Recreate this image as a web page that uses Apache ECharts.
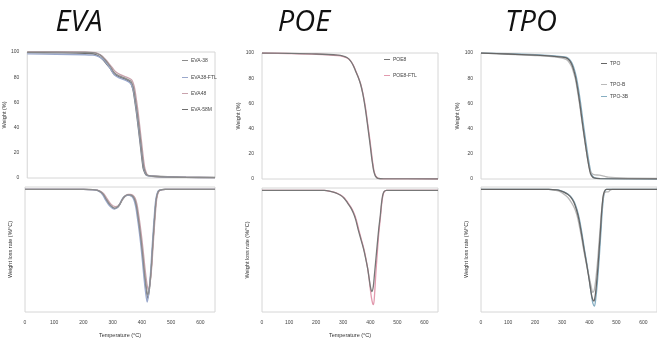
<!DOCTYPE html>
<html>
<head>
<meta charset="utf-8">
<script src="https://cdn.jsdelivr.net/npm/echarts@6/dist/echarts.min.js"></script>
<style>
  html, body { margin: 0; padding: 0; background: #fff; }
  #chart { width: 657px; height: 341px; }
</style>
</head>
<body>
<div id="chart"></div>
<script>
// panel titles and legend names
const panelTitles = ['EVA', 'POE', 'TPO'];
const evaNames = ['EVA-38', 'EVA38-FTL', 'EVA48', 'EVA-58M'];
const poeNames = ['POE8', 'POE8-FTL'];
const tpoNames = ['TPO', 'TPO-B', 'TPO-3B'];

// TGA curves: [temperature °C, weight %]
const evaTga38 = [[0,100],[100,100],[200,99.8],[225,99.5],[239,99],[253,97.5],[267,94.4],[280,90.8],[290,87.7],[301,83.7],[318,81],[341,79],[358,77],[364,74.5],[369,70.4],[375,61.5],[381,51.7],[392,30.4],[403,9],[409,4.5],[415,2.4],[430,1.5],[460,1],[550,0.5],[650,0.3]];
const evaTga38ftl = [[0,98.5],[100,98.2],[200,97.8],[225,97.5],[240,97],[254,95.5],[268,93],[280,89.3],[290,86],[301,82],[318,79.5],[341,77.5],[358,75],[364,72.2],[369,68],[375,59],[381,49],[392,28],[403,8],[409,4],[415,2],[430,1.4],[460,1],[550,0.5],[650,0.3]];
const evaTga48 = [[0,100.5],[100,100.4],[200,100],[228,99.7],[243,99],[257,97.2],[271,94],[283,90.8],[293,88],[305,84.5],[322,82],[344,80],[361,78],[367,75.2],[372,71],[378,62],[384,52],[395,30],[406,9],[412,4.2],[418,2.2],[432,1.4],[460,1],[550,0.5],[650,0.3]];
const evaTga58m = [[0,99.5],[100,99.3],[200,99],[224,98.6],[237,98],[251,96.3],[264,93.5],[277,89.8],[287,87],[299,83],[316,80.5],[339,78.5],[356,76],[362,73.2],[367,69],[373,60],[379,50],[390,29],[401,8],[407,3.9],[413,2],[428,1.6],[460,1.2],[550,0.6],[650,0.4]];

const poeTga8 = [[0,100],[100,99.7],[200,99.2],[280,98.3],[300,97.5],[315,96.2],[326,94],[336,90.5],[345,86],[354,81.5],[363,76],[372,68],[380,58],[387,47.5],[394,36],[400,26],[405,17],[409,11],[412,7],[416,3.8],[420,2],[428,0.5],[450,0.1],[650,0]];
const poeTga8ftl = [[0,100],[100,99.6],[200,99],[280,98],[300,97.2],[316,95.8],[328,93.5],[338,90],[347,85.5],[356,80.5],[365,75],[374,66.5],[382,57],[389,46],[396,35],[402,25],[407,16],[411,10],[414,6],[418,3.4],[422,1.8],[430,0.5],[450,0.1],[650,0]];

const tpoTga = [[0,100],[100,99.2],[200,98.3],[260,97.6],[300,96.8],[312,96.3],[320,95.5],[328,93.8],[335,91],[342,86.8],[349,81],[357,71.5],[365,60],[372,48.5],[380,36],[387,25.5],[393,17],[399,9.5],[404,4.5],[410,2],[417,0.8],[440,0.3],[650,0]];
const tpoTgaB = [[0,100],[100,99],[200,98],[260,97.2],[300,96],[312,95.2],[320,94],[328,91.8],[335,89],[342,84.5],[349,79],[357,69],[365,58],[372,47],[380,35],[387,25],[393,17],[399,10],[404,6],[410,4.4],[417,3.5],[437,3],[455,2.2],[470,1.5],[520,0.8],[650,0.5]];
const tpoTga3B = [[0,100],[100,99.4],[200,98.6],[260,97.9],[300,97.2],[314,96.7],[322,95.8],[331,93.8],[338,91],[345,86.8],[352,81],[360,71.5],[368,60],[375,48.5],[383,36],[390,25.5],[396,17],[402,9.5],[407,4.5],[413,2],[420,0.8],[440,0.3],[650,0]];

// DTG curves: [temperature °C, weight loss rate %/°C]
const evaDtg38 = [[0,0],[200,0],[240,-0.01],[256,-0.04],[268,-0.1],[278,-0.2],[292,-0.32],[307,-0.38],[316,-0.36],[324,-0.3],[333,-0.2],[341,-0.14],[350,-0.11],[358,-0.11],[367,-0.13],[375,-0.2],[381,-0.33],[386,-0.52],[392,-0.78],[398,-1.08],[404,-1.42],[409,-1.72],[415,-2.0],[420,-2.15],[426,-1.98],[432,-1.6],[436,-1.22],[440,-0.86],[445,-0.45],[449,-0.2],[454,-0.07],[460,-0.02],[480,0],[650,0]];
const evaDtg38ftl = [[0,0],[200,0],[238,-0.01],[254,-0.04],[266,-0.11],[276,-0.22],[290,-0.34],[305,-0.4],[314,-0.38],[322,-0.32],[331,-0.21],[339,-0.15],[348,-0.12],[356,-0.12],[365,-0.14],[373,-0.22],[379,-0.36],[384,-0.56],[390,-0.82],[396,-1.12],[402,-1.48],[407,-1.8],[413,-2.12],[418,-2.3],[424,-2.08],[430,-1.65],[434,-1.26],[438,-0.9],[443,-0.48],[447,-0.22],[452,-0.08],[458,-0.02],[480,0],[650,0]];
const evaDtg48 = [[0,0],[200,0],[242,-0.01],[258,-0.04],[270,-0.09],[280,-0.18],[294,-0.3],[309,-0.35],[318,-0.34],[326,-0.28],[335,-0.19],[343,-0.13],[352,-0.1],[360,-0.1],[369,-0.12],[377,-0.18],[383,-0.3],[388,-0.48],[394,-0.73],[400,-1.02],[406,-1.35],[411,-1.64],[417,-1.92],[422,-2.05],[428,-1.9],[434,-1.55],[438,-1.18],[442,-0.82],[447,-0.42],[451,-0.18],[456,-0.06],[462,-0.02],[480,0],[650,0]];
const evaDtg58m = [[0,0],[200,0],[240,-0.01],[256,-0.04],[268,-0.11],[278,-0.21],[292,-0.33],[307,-0.39],[316,-0.37],[324,-0.31],[333,-0.21],[341,-0.15],[350,-0.12],[358,-0.12],[367,-0.14],[375,-0.21],[381,-0.35],[386,-0.54],[392,-0.8],[398,-1.1],[404,-1.45],[409,-1.76],[415,-2.06],[420,-2.22],[426,-2.02],[432,-1.62],[436,-1.24],[440,-0.88],[445,-0.46],[449,-0.21],[454,-0.07],[460,-0.02],[480,0],[650,0]];

const poeDtg8 = [[0,0],[230,0],[252,-0.02],[272,-0.05],[290,-0.1],[303,-0.16],[315,-0.25],[327,-0.35],[337,-0.46],[346,-0.6],[355,-0.8],[365,-1.0],[375,-1.2],[383,-1.4],[390,-1.6],[396,-1.82],[401,-2.0],[406,-2.08],[411,-1.98],[415,-1.75],[420,-1.45],[425,-1.15],[431,-0.8],[437,-0.51],[441,-0.28],[445,-0.12],[450,-0.03],[460,0],[650,0]];
const poeDtg8ftl = [[0,0],[230,0],[254,-0.02],[274,-0.05],[292,-0.1],[305,-0.16],[317,-0.25],[329,-0.35],[339,-0.46],[348,-0.6],[357,-0.8],[367,-1.01],[377,-1.22],[385,-1.44],[393,-1.7],[399,-1.98],[404,-2.2],[409,-2.33],[412,-2.35],[416,-2.12],[420,-1.75],[425,-1.35],[431,-0.9],[438,-0.52],[442,-0.28],[446,-0.12],[451,-0.03],[460,0],[650,0]];

const tpoDtg = [[0,0],[250,0],[280,-0.01],[294,-0.03],[308,-0.06],[320,-0.1],[332,-0.16],[343,-0.26],[353,-0.42],[362,-0.62],[371,-0.9],[380,-1.2],[390,-1.52],[400,-1.86],[406,-2.08],[411,-2.22],[417,-2.28],[422,-2.16],[427,-1.9],[433,-1.5],[437,-1.18],[441,-0.86],[445,-0.5],[448,-0.3],[451,-0.14],[455,-0.05],[462,0],[650,0]];
const tpoDtgB = [[0,0],[250,0],[276,-0.02],[290,-0.04],[305,-0.09],[320,-0.16],[333,-0.26],[345,-0.38],[354,-0.52],[362,-0.71],[371,-0.97],[380,-1.26],[390,-1.54],[400,-1.8],[407,-1.98],[413,-2.1],[418,-2.06],[423,-1.88],[430,-1.5],[435,-1.15],[440,-0.8],[444,-0.52],[448,-0.3],[452,-0.14],[456,-0.07],[463,-0.05],[470,-0.05],[476,-0.02],[485,0],[650,0]];
const tpoDtg3B = [[0,0],[250,0],[282,-0.01],[296,-0.03],[310,-0.06],[322,-0.1],[334,-0.16],[345,-0.26],[355,-0.42],[364,-0.62],[373,-0.9],[382,-1.22],[392,-1.55],[402,-1.92],[408,-2.16],[413,-2.32],[419,-2.38],[424,-2.22],[429,-1.95],[435,-1.52],[439,-1.2],[443,-0.86],[447,-0.5],[450,-0.3],[453,-0.14],[457,-0.05],[464,0],[650,0]];

// layout of each panel (px)
const panels = [
  { left: 25, width: 190, top: 52, h1: 126, top2: 187, h2: 125, titleX: 79, legX: 182, legY: [58, 75, 91, 107], xName: true },
  { left: 262, width: 176, top: 53, h1: 126, top2: 188, h2: 124, titleX: 304, legX: 384, legY: [57, 73], xName: true },
  { left: 481, width: 177, top: 53, h1: 126, top2: 187, h2: 125, titleX: 531, legX: 601, legY: [61, 82, 94], xName: false }
];

const tgaSets = [
  [evaTga38, evaTga38ftl, evaTga48, evaTga58m],
  [poeTga8, poeTga8ftl],
  [tpoTga, tpoTgaB, tpoTga3B]
];
const dtgSets = [
  [evaDtg38, evaDtg38ftl, evaDtg48, evaDtg58m],
  [poeDtg8, poeDtg8ftl],
  [tpoDtg, tpoDtgB, tpoDtg3B]
];
const nameSets = [evaNames, poeNames, tpoNames];
const colorSets = [
  ['#8c8c8c', '#9aa8cc', '#c9a3ad', '#6e6e6e'],
  ['#777777', '#e29aae'],
  ['#666666', '#b9b9b9', '#86aec2']
];

const labelFont = { fontSize: 5, color: '#444', fontFamily: 'Liberation Sans' };

let grids = [], xAxes = [], yAxes = [], series = [], legends = [], graphics = [];

panels.forEach((p, i) => {
  grids.push({ left: p.left, top: p.top, width: p.width, height: p.h1, show: true, borderColor: '#d6d6d6', borderWidth: 1 });
  grids.push({ left: p.left, top: p.top2, width: p.width, height: p.h2, show: true, borderColor: '#d6d6d6', borderWidth: 1 });

  xAxes.push({ gridIndex: i * 2, type: 'value', min: 0, max: 650, interval: 100,
    axisLine: { show: false }, axisTick: { show: false }, axisLabel: { show: false }, splitLine: { show: false } });
  xAxes.push({ gridIndex: i * 2 + 1, type: 'value', min: 0, max: 650, interval: 100,
    name: p.xName ? 'Temperature (°C)' : '', nameLocation: 'middle', nameGap: 20,
    nameTextStyle: { fontSize: 5.5, color: '#333', fontFamily: 'Liberation Sans' },
    axisLine: { show: false }, axisTick: { show: false }, splitLine: { show: false },
    axisLabel: Object.assign({ margin: 8, showMaxLabel: false, formatter: v => (v > 600 ? '' : v) }, labelFont) });

  yAxes.push({ gridIndex: i * 2, type: 'value', min: 0, max: 100, interval: 20,
    name: 'Weight (%)', nameLocation: 'middle', nameGap: 14,
    nameTextStyle: { fontSize: 5.5, color: '#333', fontFamily: 'Liberation Sans' },
    axisLine: { show: false }, axisTick: { show: false }, splitLine: { show: false },
    axisLabel: Object.assign({ margin: 8 }, labelFont) });
  yAxes.push({ gridIndex: i * 2 + 1, type: 'value', min: -2.5, max: 0.05,
    name: 'Weight loss rate (%/°C)', nameLocation: 'middle', nameGap: 12,
    nameTextStyle: { fontSize: 5.5, color: '#333', fontFamily: 'Liberation Sans' },
    axisLine: { show: false }, axisTick: { show: false }, splitLine: { show: false }, axisLabel: { show: false } });

  nameSets[i].forEach((nm, k) => {
    const col = colorSets[i][k];
    const common = { type: 'line', name: nm, showSymbol: false, smooth: 0.3,
      lineStyle: { width: 1.3, color: col }, itemStyle: { color: col }, z: 10 - k };
    series.push(Object.assign({}, common, { xAxisIndex: i * 2, yAxisIndex: i * 2, data: tgaSets[i][k] }));
    series.push(Object.assign({}, common, { xAxisIndex: i * 2 + 1, yAxisIndex: i * 2 + 1, data: dtgSets[i][k] }));

    legends.push({ data: [nm], left: p.legX, top: p.legY[k], icon: 'rect', itemWidth: 6, itemHeight: 1,
      itemGap: 2, selectedMode: false, padding: 0,
      textStyle: { fontSize: 5, color: '#444', fontFamily: 'Liberation Sans', padding: [0, 0, 0, -2] } });
  });

  graphics.push({ type: 'text', x: p.titleX, y: 23,
    style: { text: panelTitles[i], font: 'italic 29px "Open Sans"', fill: '#111', align: 'center', verticalAlign: 'middle' } });
});

const chart = echarts.init(document.getElementById('chart'));
chart.setOption({
  animation: false,
  backgroundColor: '#fff',
  grid: grids,
  xAxis: xAxes,
  yAxis: yAxes,
  legend: legends,
  series: series,
  graphic: graphics
});
</script>
</body>
</html>
